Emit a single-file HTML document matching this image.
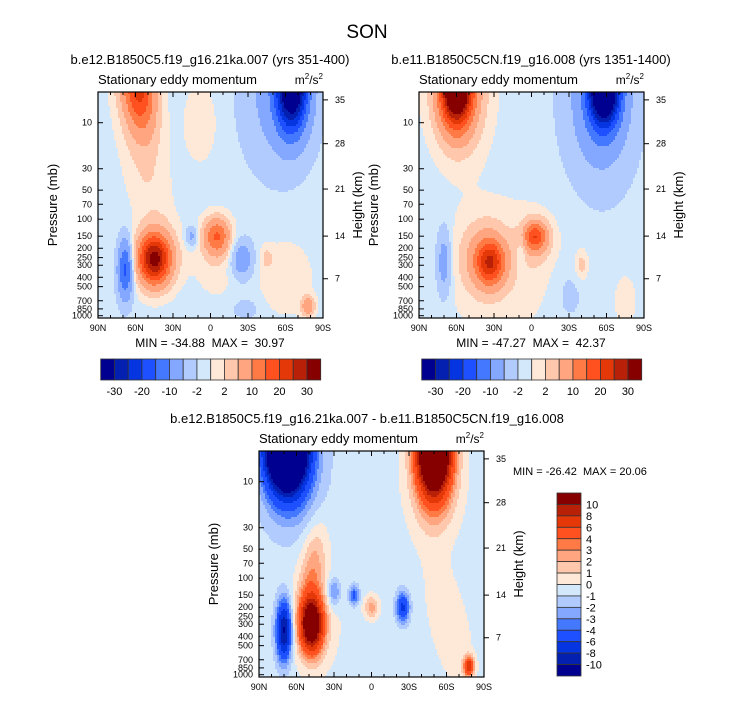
<!DOCTYPE html>
<html><head><meta charset="utf-8"><style>
html,body{margin:0;padding:0;background:#fff}
svg{display:block;font-family:"Liberation Sans",sans-serif}
</style></head><body>
<svg id="root" width="733" height="701" viewBox="0 0 733 701" xmlns="http://www.w3.org/2000/svg">
<text x="367" y="38" font-size="19" text-anchor="middle">SON</text>
</svg>
<script>
// ---- data ----
const colors = ['#000090','#0420b0','#0435e0','#1e50ff','#4478ff','#84a7ff','#b1cbff','#d4e8fc','#fee8d8','#ffc8ad','#ffa57f','#ff7a45','#ff5020','#e53808','#b82108','#870000'];
const levelsAbs = [-30,-25,-20,-15,-10,-5,-2,0,2,5,10,15,20,25,30];
const levelsDiff = [-10,-8,-6,-4,-3,-2,-1,0,1,2,3,4,6,8,10];
const absBarLabels = ['-30','-20','-10','-2','2','10','20','30'];
const diffBarLabels = ['10','8','6','4','3','2','1','0','-1','-2','-3','-4','-6','-8','-10'];
const latTicks = [90,60,30,0,-30,-60,-90];
const latTickLabels = ['90N','60N','30N','0','30S','60S','90S'];
const pressTicks = [10,30,50,70,100,150,200,250,300,400,500,700,850,1000];
const heightLabels = ['35','28','21','14','7'];
const heightPress = [5.8,16.5,48.7,149.7,414];
// blobs: [lat, p(mb), value, latWidth, logpWidth, tilt]
const bg1 = -1, bg2 = -1, bg3 = -0.5;
const blobs1 = [
 [58,4,20,12,0.45,-8],[60,5,4,17,0.6,-8],[50,40,2.5,18,0.6,-12],
 [45,260,28,12,0.24,0],[44,250,6,18,0.34,0],
 [68,330,-16,6,0.3,0],[15,150,-6,5,0.1,0],
 [-5,150,15,10,0.18,0],[-5,250,2.5,18,0.4,0],
 [-25,260,-8,9,0.2,0],
 [-65,4,-38,12,0.45,0],[-55,5,-6,28,0.75,0],
 [8,10,2.2,15,0.45,0],[-60,400,2.5,22,0.4,0],[-45,250,3,5,0.12,0],
 [-78,800,10,5,0.1,0],[-28,850,-3,10,0.1,0]];
const blobs2 = [
 [25,300,2.5,45,0.7,0],[60,4,45,12,0.4,0],[58,5,8,22,0.6,0],
 [70,280,-7,6,0.35,0],[33,280,20,11,0.22,0],[38,250,6,18,0.35,0],
 [-3,150,16,9,0.14,0],[-3,170,4,13,0.25,0],[8,200,-3,4,0.2,0],
 [-58,4,-45,12,0.4,0],[-55,6,-8,26,0.8,0],
 [-40,300,4,5,0.15,0],[-75,700,2,10,0.3,0],[-30,600,-2,12,0.3,0]];
const blobs3 = [
 [68,4,-30,14,0.4,0],[65,6,-5,22,0.6,0],
 [-50,4,24,12,0.45,0],[-50,8,4,19,0.6,0],[-62,300,1.5,15,0.6,-15],
 [70,350,-10,6,0.3,0],[48,300,14,9,0.28,0],[47,80,3,10,0.45,8],[46,300,1.5,20,0.5,0],
 [30,140,-3,5,0.15,0],[14,150,-4,4,0.1,0],[0,200,3,6,0.12,0],
 [-25,200,-6,5,0.15,0],[-78,820,8,4,0.1,0]];

const NS='http://www.w3.org/2000/svg';
const root=document.getElementById('root');
function mk(tag,attrs,parent){const e=document.createElementNS(NS,tag);for(const k in attrs)e.setAttribute(k,attrs[k]);(parent||root).appendChild(e);return e;}
function txt(x,y,s,size,anchor,parent,rot){const e=mk('text',{x:x,y:y,'font-size':size,'text-anchor':anchor||'start'},parent);if(rot)e.setAttribute('transform','rotate(-90 '+x+' '+y+')');e.textContent=s;return e;}

function panel(x0,y0,bg,blobs,levels,name){
 const W=225,H=226;
 const g=mk('g',{});
 
 
 const X=lat=>x0+(90-lat)/180*W;
 const Y=p=>y0+30.7+96.5*(Math.log10(p)-1);
 const P=y=>Math.pow(10,1+(y-y0-30.7)/96.5);
 const L=x=>90-(x-x0)/W*180;
 function f(lat,p){let v=bg;const lp=Math.log10(p);
  for(const bb of blobs){const dl=lp-Math.log10(bb[1]);const c=bb[0]+bb[5]*dl;
   const a1=(lat-c)/bb[3], a2=dl/bb[4];
   v+=bb[2]*Math.exp(-(a1*a1)-(a2*a2));}return v;}
 function idx(v){let i=0;while(i<levels.length&&v>=levels[i])i++;return i;}
 const cs=2;
 const field=mk('g',{'shape-rendering':'crispEdges'},g);
 
 
 for(let yy=0;yy<H;yy+=cs){
  const p=P(y0+yy+cs/2);let runStart=0,runIdx=-1;
  for(let xx=0;xx<W+cs;xx+=cs){
   const ci= xx<W?idx(f(L(x0+Math.min(xx+cs/2,W)),p)):-2;
   if(ci!==runIdx){
    if(runIdx>=0){const r=mk('rect',{x:x0+runStart,y:y0+yy,width:Math.min(xx,W)-runStart,height:Math.min(cs,H-yy),fill:colors[runIdx]},field);
     
     }
    runStart=xx;runIdx=ci;}
  }
 }
 const fr=mk('rect',{x:x0,y:y0,width:W,height:H,fill:'none',stroke:'#000','stroke-width':1.2},g);
 
 
 for(let lat=90;lat>=-90;lat-=10){const x=X(lat);const len=lat%30===0?5:3;
  mk('line',{x1:x,y1:y0,x2:x,y2:y0+len,stroke:'#000'},g);
  mk('line',{x1:x,y1:y0+H,x2:x,y2:y0+H-len,stroke:'#000'},g);}
 latTicks.forEach((lat,i)=>{const t=txt(X(lat),y0+H+13,latTickLabels[i],9,'middle',g);
  
  });
 pressTicks.forEach(p=>{const y=Y(p);mk('line',{x1:x0,y1:y,x2:x0+5,y2:y,stroke:'#000'},g);
  const t=txt(x0-6,y+3,String(p),9,'end',g);
  
  });
 heightPress.forEach((p,i)=>{const y=Y(p);mk('line',{x1:x0+W,y1:y,x2:x0+W+5,y2:y,stroke:'#000'},g);
  const t=txt(x0+W+12,y+3,heightLabels[i],9,'start',g);
  
  });
 const ya=txt(x0-41,y0+H/2,'Pressure (mb)',13,'middle',g,true);
 
 
 const yb=txt(x0+W+39,y0+H/2,'Height (km)',13,'middle',g,true);
 
 
 const st=txt(x0,y0-8,'Stationary eddy momentum',13,'start',g);
 
 
 const u=mk('text',{x:x0+W,y:y0-8,'font-size':12,'text-anchor':'end'},g);
 
 
 u.innerHTML='m<tspan dy="-5" font-size="8">2</tspan><tspan dy="5">/s</tspan><tspan dy="-5" font-size="8">2</tspan>';
}
function hbar(x0,y0,name){
 const g=mk('g',{});
 
 
 const bw=220/colors.length;
 colors.forEach((c,i)=>{mk('rect',{x:x0+i*bw,y:y0,width:bw,height:21,fill:c,stroke:'#333','stroke-width':0.8},g);});
 absBarLabels.forEach((l,i)=>{txt(x0+(2*i+1)*bw,y0+36,l,11,'middle',g);});
}
function vbar(x0,y0){
 const g=mk('g',{});
 
 
 const bh=183/colors.length;
 colors.slice().reverse().forEach((c,i)=>{mk('rect',{x:x0,y:y0+i*bh,width:24,height:bh,fill:c,stroke:'#333','stroke-width':0.8},g);});
 diffBarLabels.forEach((l,i)=>{txt(x0+29,y0+(i+1)*bh+4,l,11,'start',g);});
}
panel(98,92,bg1,blobs1,levelsAbs,'panel-21ka');
panel(419,92,bg2,blobs2,levelsAbs,'panel-preindustrial');
panel(259,451,bg3,blobs3,levelsDiff,'panel-difference');
hbar(100.7,359,'colorbar-21ka');
hbar(421.7,359,'colorbar-preindustrial');
vbar(557,493);
const t1=txt(210,64,'b.e12.B1850C5.f19_g16.21ka.007 (yrs 351-400)',13,'middle');


const t2=txt(531,64,'b.e11.B1850C5CN.f19_g16.008 (yrs 1351-1400)',13,'middle');


const t3=txt(367,423,'b.e12.B1850C5.f19_g16.21ka.007 - b.e11.B1850C5CN.f19_g16.008',13,'middle');


const m1=txt(210,347,'MIN = -34.88  MAX =  30.97',12,'middle');


const m2=txt(531,347,'MIN = -47.27  MAX =  42.37',12,'middle');


const m3=txt(513,475,'MIN = -26.42  MAX = 20.06',11,'start');


document.querySelectorAll('text').forEach(t=>{t.style.whiteSpace='pre';});
</script>
</body></html>
